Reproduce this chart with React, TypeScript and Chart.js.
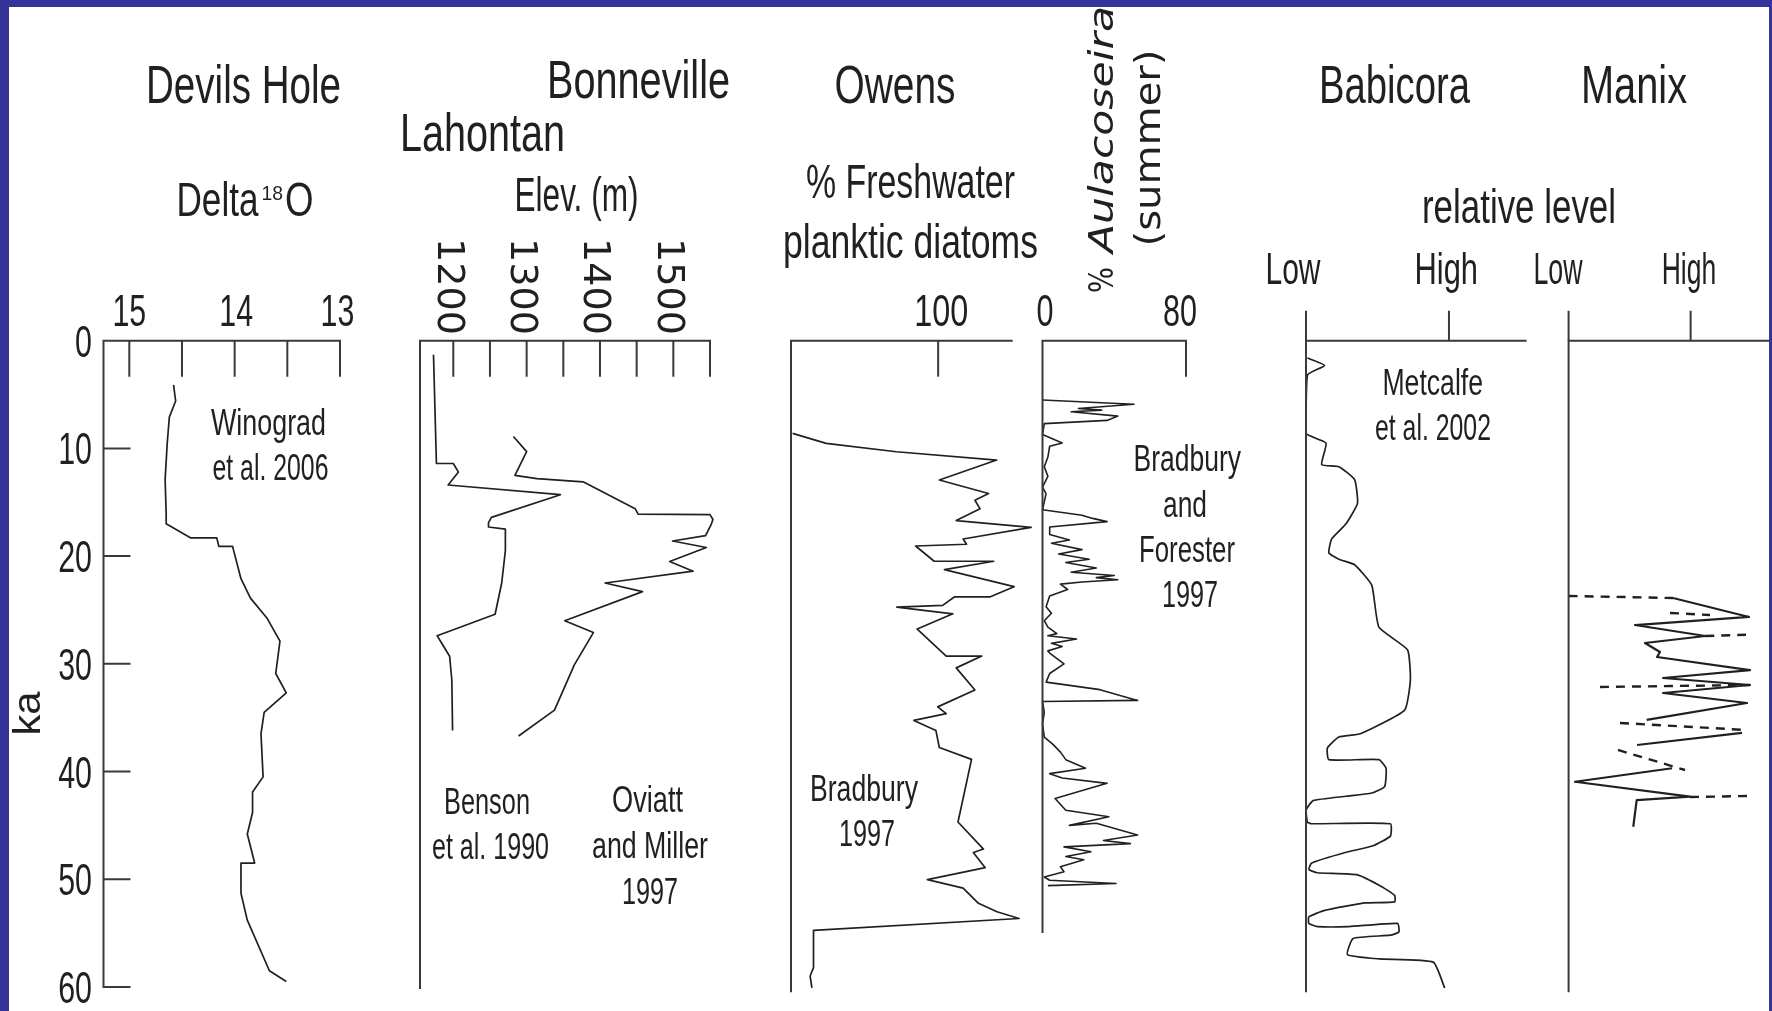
import React, { useEffect, useRef } from "react";
import { Chart, registerables } from "chart.js";

Chart.register(...registerables);

const W = 1772;
const H = 1011;
const AXIS_TOP = 340.7;
const KA_60 = 986.9;

const SANS = "'Liberation Sans', Arial, sans-serif";
const WIDE = "'DejaVu Sans', Verdana, sans-serif";
const INK = "#231f20";
const AXIS = "#3a3a3a";
const BLUE = "#333399";

// ---------------- data ----------------
const kaTickValues = [0, 10, 20, 30, 40, 50, 60];
const kaTickLabels = ["0", "10", "20", "30", "40", "50", "60"];

// Devils Hole (Winograd et al. 2006)
const devilsHoleKa = [4.1, 5.6, 7.1, 9.5, 12.9, 16.1, 17.0, 18.3, 18.3, 19.1, 19.1, 22.1, 23.9, 25.8, 27.9, 30.9, 32.7, 34.5, 36.5, 40.5, 41.9, 43.8, 45.8, 48.5, 48.5, 51.3, 53.8, 58.5, 59.5];
const devilsHoleD18O = [14.58, 14.56, 14.62, 14.64, 14.66, 14.65, 14.65, 14.42, 14.17, 14.15, 14.02, 13.94, 13.85, 13.69, 13.57, 13.61, 13.51, 13.72, 13.75, 13.73, 13.83, 13.83, 13.88, 13.81, 13.94, 13.94, 13.88, 13.67, 13.51];
const d18OTicks = [15, 14.5, 14, 13.5, 13];
const d18OLabelValues = [15, 14, 13];
const d18OLabels = ["15", "14", "13"];

// Lahontan (Benson et al. 1990) and Bonneville (Oviatt and Miller 1997)
const lahontanKa = [1.3, 11.4, 11.4, 12.2, 13.4, 14.3, 16.4, 16.9, 17.3, 17.5, 19.5, 22.5, 25.4, 27.4, 29.3, 31.5, 36.2];
const lahontanElev = [1173, 1177, 1200, 1207, 1193, 1346, 1252, 1248, 1248, 1271, 1271, 1266, 1257, 1178, 1195, 1198, 1199];
const bonnevilleKa = [8.9, 10.3, 12.5, 12.8, 13.1, 15.6, 16.1, 16.15, 16.6, 17.0, 18.1, 18.6, 19.2, 20.5, 21.4, 22.5, 23.3, 26.0, 27.1, 30.1, 34.3, 36.7];
const bonnevilleElev = [1282, 1300, 1284, 1314, 1377, 1448, 1452, 1550, 1554, 1552, 1544, 1499, 1545, 1495, 1527, 1407, 1458, 1352, 1391, 1365, 1338, 1289];
const elevTicks = [1200, 1250, 1300, 1350, 1400, 1450, 1500, 1550];
const elevLabelValues = [1200, 1300, 1400, 1500];
const elevLabels = ["1200", "1300", "1400", "1500"];

// Owens (Bradbury 1997) - % freshwater planktic diatoms
const owensKa = [8.6, 9.53, 10.31, 11.08, 12.93, 14.19, 14.82, 15.61, 16.7, 17.34, 18.41, 18.9, 19.06, 20.48, 20.48, 21.26, 22.84, 23.78, 23.78, 24.57, 24.73, 25.36, 26.77, 29.28, 29.28, 30.38, 32.43, 34.0, 34.63, 35.26, 36.2, 37.77, 38.87, 44.69, 47.2, 47.52, 48.93, 50.04, 50.83, 52.24, 53.02, 53.65, 54.75, 58.21, 58.99, 60.1];
const owensPct = [1.1, 23.9, 71.6, 139.8, 100.8, 134.3, 125.0, 128.5, 112.3, 163.2, 117.0, 119.3, 84.7, 97.3, 137.8, 104.3, 151.6, 135.5, 111.2, 103.1, 71.9, 110.0, 85.8, 105.5, 129.7, 112.3, 125.0, 99.7, 105.5, 83.5, 98.5, 100.8, 122.7, 113.5, 130.8, 123.9, 132.0, 92.7, 117.0, 127.4, 140.0, 155.0, 15.3, 15.3, 13.0, 14.2];
const owensTicks = [100];
const owensLabels = ["100"];

// Owens (Bradbury and Forester 1997) - % Aulacoseira (summer)
const aulacoseiraKa = [5.5, 5.9, 6.3, 6.45, 6.6, 7.0, 7.4, 7.7, 8.7, 9.5, 9.8, 10.8, 11.7, 12.6, 13.6, 14.2, 15.7, 16.2, 16.5, 16.8, 17.3, 18.0, 18.5, 18.8, 19.4, 19.8, 20.3, 20.6, 21.1, 21.5, 21.8, 22.0, 22.2, 22.4, 22.6, 23.1, 23.7, 24.7, 25.3, 26.0, 26.6, 27.2, 27.4, 27.7, 28.1, 28.4, 28.8, 29.0, 30.0, 30.9, 31.7, 32.4, 33.4, 33.5, 34.5, 35.6, 36.8, 37.5, 38.2, 38.9, 39.7, 40.2, 40.6, 41.1, 42.5, 43.6, 44.2, 45.0, 44.8, 45.9, 46.4, 46.7, 47.0, 47.45, 47.9, 48.2, 48.85, 49.3, 49.8, 50.1, 50.4, 50.6];
const aulacoseiraPct = [0, 51, 20, 33, 16, 42, 36, 1, 0, 11, 4, 3, 1, 3, 0, 2, 0, 22, 28, 36, 4, 4, 15, 5, 22, 9, 26, 13, 30, 16, 40, 30, 42, 22, 10, 14, 4, 2, 5, 1, 3, 8, 3, 19, 5, 11, 3, 4, 12, 4, 2, 32, 53, 0, 1, 0, 1, 6, 10, 13, 24, 4, 11, 36, 7, 13, 37, 15, 30, 53, 34, 49, 12, 27, 13, 23, 10, 12, 1, 4, 41, 3];
const aulacoseiraTicks = [80];
const aulacoseiraLabelValues = [0, 80];
const aulacoseiraLabels = ["0", "80"];

// Babicora (Metcalfe et al. 2002) - relative level (0 = Low, 1 = High)
const babicoraKa = [1.6, 2.3, 3.2, 8.6, 9.5, 11.5, 11.7, 12.9, 15.1, 17.0, 18.4, 19.7, 20.3, 20.8, 22.7, 26.6, 28.7, 31.5, 34.3, 36.5, 36.8, 37.8, 38.9, 38.9, 39.7, 41.4, 42.0, 42.3, 42.7, 43.6, 44.7, 44.85, 44.85, 46.0, 46.9, 47.5, 48.5, 49.1, 49.4, 49.6, 50.7, 51.5, 52.1, 52.2, 52.9, 53.5, 54.1, 54.4, 54.4, 54.1, 54.9, 55.2, 55.5, 57.0, 57.4, 57.7, 60.1];
const babicoraLevel = [0.01, 0.13, 0.01, 0.0, 0.14, 0.11, 0.23, 0.34, 0.36, 0.28, 0.18, 0.16, 0.23, 0.34, 0.46, 0.51, 0.71, 0.73, 0.69, 0.38, 0.23, 0.15, 0.16, 0.51, 0.56, 0.55, 0.46, 0.28, 0.05, 0.0, 0.01, 0.04, 0.59, 0.59, 0.47, 0.28, 0.04, 0.02, 0.08, 0.36, 0.53, 0.62, 0.62, 0.41, 0.13, 0.02, 0.02, 0.08, 0.3, 0.64, 0.65, 0.59, 0.33, 0.29, 0.51, 0.89, 0.97];
const levelTicks = [0, 1];
const levelLabels = ["Low", "High"];

// Manix - relative level, solid (observed) and dashed (inferred) segments
const manixSolidAKa = [23.89, 25.65, 26.4, 27.42, 28.07, 28.9, 29.37, 30.58, 31.32, 31.97, 32.71, 33.64, 35.21];
const manixSolidALevel = [0.856, 1.479, 0.544, 1.12, 0.626, 0.749, 0.725, 1.487, 0.774, 1.487, 0.774, 1.462, 0.64];
const manixSolidBKa = [37.54, 36.42];
const manixSolidBLevel = [0.561, 1.421];
const manixSolidCKa = [39.7, 40.95, 42.34, 42.65, 45.13];
const manixSolidCLevel = [0.848, 0.052, 0.995, 0.558, 0.53];
const manixDash1Ka = [23.7, 23.89];
const manixDash1Level = [0, 0.856];
const manixDash2Ka = [25.28, 25.47];
const manixDash2Level = [0.831, 1.159];
const manixDash3Ka = [27.42, 27.3];
const manixDash3Level = [1.12, 1.454];
const manixDash4Ka = [32.15, 31.97];
const manixDash4Level = [0.257, 1.487];
const manixDash5Ka = [35.49, 36.14];
const manixDash5Level = [0.421, 1.446];
const manixDash6Ka = [38.0, 39.86];
const manixDash6Level = [0.405, 0.954];
const manixDash7Ka = [42.37, 42.27];
const manixDash7Level = [0.995, 1.487];

// ---------------- drawing helpers ----------------
type TextItem = {
  text: string;
  x: number;
  y: number;
  size: number;
  width?: number;
  sx?: number;
  align?: CanvasTextAlign;
  rot?: number;
  italic?: boolean;
  family?: string;
};

function drawText(ctx: CanvasRenderingContext2D, t: TextItem) {
  ctx.save();
  ctx.font = `${t.italic ? "italic " : ""}${t.size}px ${t.family || SANS}`;
  ctx.fillStyle = INK;
  ctx.textBaseline = "alphabetic";
  ctx.textAlign = t.align || "left";
  const w = ctx.measureText(t.text).width;
  const sx = t.width ? t.width / w : t.sx || 1;
  ctx.translate(t.x, t.y);
  if (t.rot) ctx.rotate((t.rot * Math.PI) / 180);
  ctx.scale(sx, 1);
  ctx.fillText(t.text, 0, 0);
  ctx.restore();
}

type Series = { v: number[]; ka: number[]; dash?: number[]; width?: number; tension?: number };
type XLabel = { v: number; text: string; dx: number; y: number; style: Omit<TextItem, "text" | "x" | "y"> };

type Panel = {
  key: string;
  left: number;
  right: number;
  xMin: number;
  xMax: number;
  reverse?: boolean;
  axisBottomKa: number;
  xTicks: number[];
  xTickLen: number;
  yTicks: number[];
  yTickLen: number;
  yLabels: { ka: number; text: string }[];
  xLabels: XLabel[];
  texts: TextItem[];
  series: Series[];
};

const zip = (vals: number[], labels: string[]) => vals.map((v, i) => ({ v, text: labels[i] }));

const DIGITS = { size: 44, sx: 0.69, align: "center" as CanvasTextAlign };

const panels: Panel[] = [
  {
    key: "devils",
    left: 103.5,
    right: 340,
    xMin: 13,
    xMax: 15.245,
    reverse: true,
    axisBottomKa: 60,
    xTicks: d18OTicks,
    xTickLen: 36,
    yTicks: kaTickValues.slice(1),
    yTickLen: 27,
    yLabels: kaTickValues.map((ka, i) => ({ ka, text: kaTickLabels[i] })),
    xLabels: zip(d18OLabelValues, d18OLabels).map((l, i) => ({ ...l, dx: [0, 1.5, -2.5][i], y: 326, style: DIGITS })),
    texts: [
      { text: "Devils Hole", x: 146, y: 103, size: 54, width: 195 },
      { text: "Delta", x: 176.5, y: 216, size: 48, width: 82 },
      { text: "18", x: 261.5, y: 200, size: 21, width: 21.5 },
      { text: "O", x: 285, y: 216, size: 48, width: 28.5 },
      { text: "Winograd", x: 211, y: 435, size: 36, width: 115 },
      { text: "et al. 2006", x: 212.5, y: 480, size: 36, width: 116 },
      { text: "ka", x: 40, y: 735.5, size: 39, width: 44, rot: -90 },
    ],
    series: [{ v: devilsHoleD18O, ka: devilsHoleKa }],
  },
  {
    key: "lahontan",
    left: 420,
    right: 710,
    xMin: 1154.6,
    xMax: 1550,
    axisBottomKa: 60.1,
    xTicks: elevTicks,
    xTickLen: 36,
    yTicks: [],
    yTickLen: 0,
    yLabels: [],
    xLabels: zip(elevLabelValues, elevLabels).map((l) => ({
      ...l,
      dx: -15.5,
      y: 238,
      style: { size: 37, width: 97, rot: 90, family: WIDE, align: "left" as CanvasTextAlign },
    })),
    texts: [
      { text: "Bonneville", x: 547, y: 98, size: 54, width: 183 },
      { text: "Lahontan", x: 400, y: 151, size: 54, width: 165 },
      { text: "Elev. (m)", x: 514.5, y: 211, size: 48, width: 124 },
      { text: "Benson", x: 444, y: 814, size: 36, width: 86 },
      { text: "et al. 1990", x: 432, y: 859, size: 36, width: 117 },
      { text: "Oviatt", x: 612, y: 812, size: 36, width: 71 },
      { text: "and Miller", x: 592, y: 858, size: 36, width: 116 },
      { text: "1997", x: 622, y: 904, size: 36, width: 56 },
    ],
    series: [
      { v: lahontanElev, ka: lahontanKa },
      { v: bonnevilleElev, ka: bonnevilleKa },
    ],
  },
  {
    key: "owens",
    left: 791,
    right: 1011.7,
    xMin: 0,
    xMax: 150,
    axisBottomKa: 60.4,
    xTicks: owensTicks,
    xTickLen: 36,
    yTicks: [],
    yTickLen: 0,
    yLabels: [],
    xLabels: zip(owensTicks, owensLabels).map((l) => ({ ...l, dx: 3, y: 326, style: { size: 44, width: 54, align: "center" as CanvasTextAlign } })),
    texts: [
      { text: "Owens", x: 834.5, y: 103, size: 54, width: 121 },
      { text: "% Freshwater", x: 806, y: 198, size: 48, width: 209 },
      { text: "planktic diatoms", x: 783, y: 258, size: 48, width: 255 },
      { text: "Bradbury", x: 810, y: 801, size: 36, width: 108 },
      { text: "1997", x: 839, y: 846, size: 36, width: 56 },
    ],
    series: [{ v: owensPct, ka: owensKa }],
  },
  {
    key: "aulacoseira",
    left: 1042.5,
    right: 1186,
    xMin: 0,
    xMax: 80,
    axisBottomKa: 54.9,
    xTicks: aulacoseiraTicks,
    xTickLen: 36,
    yTicks: [],
    yTickLen: 0,
    yLabels: [],
    xLabels: zip(aulacoseiraLabelValues, aulacoseiraLabels).map((l, i) => ({
      ...l,
      dx: [2.5, -6][i],
      y: 326,
      style: { size: 44, width: [17, 34][i], align: "center" as CanvasTextAlign },
    })),
    texts: [
      { text: "%", x: 1113, y: 293, size: 34, width: 26, rot: -90, family: WIDE },
      { text: "Aulacoseira", x: 1113, y: 253, size: 34, width: 247, rot: -90, italic: true, family: WIDE },
      { text: "(summer)", x: 1160, y: 246.5, size: 36, width: 197, rot: -90, family: WIDE },
      { text: "Bradbury", x: 1133.5, y: 471, size: 36, width: 107.5 },
      { text: "and", x: 1163, y: 517, size: 36, width: 44 },
      { text: "Forester", x: 1139, y: 562, size: 36, width: 96 },
      { text: "1997", x: 1162, y: 607, size: 36, width: 56 },
    ],
    series: [{ v: aulacoseiraPct, ka: aulacoseiraKa, width: 1.6 }],
  },
  {
    key: "babicora",
    left: 1306,
    right: 1525.6,
    xMin: 0,
    xMax: 1.536,
    axisBottomKa: 60.4,
    xTicks: levelTicks,
    xTickLen: -30,
    yTicks: [],
    yTickLen: 0,
    yLabels: [],
    xLabels: zip(levelTicks, levelLabels).map((l, i) => ({
      ...l,
      dx: [-13, -2.7][i],
      y: 284,
      style: { size: 44, width: [55, 63.5][i], align: "center" as CanvasTextAlign },
    })),
    texts: [
      { text: "Babicora", x: 1319, y: 103, size: 54, width: 151 },
      { text: "relative level", x: 1422, y: 223, size: 48, width: 194 },
      { text: "Metcalfe", x: 1382.4, y: 395, size: 36, width: 100.6 },
      { text: "et al. 2002", x: 1375, y: 440, size: 36, width: 116 },
    ],
    series: [{ v: babicoraLevel, ka: babicoraKa, tension: 0.15 }],
  },
  {
    key: "manix",
    left: 1568.6,
    right: 1772,
    xMin: 0,
    xMax: 1.667,
    axisBottomKa: 60.4,
    xTicks: levelTicks,
    xTickLen: -30,
    yTicks: [],
    yTickLen: 0,
    yLabels: [],
    xLabels: zip(levelTicks, levelLabels).map((l, i) => ({
      ...l,
      dx: [-10.6, -1.7][i],
      y: 284,
      style: { size: 44, width: [49, 54.5][i], align: "center" as CanvasTextAlign },
    })),
    texts: [{ text: "Manix", x: 1581, y: 103, size: 54, width: 106 }],
    series: [
      { v: manixSolidALevel, ka: manixSolidAKa, width: 2.2 },
      { v: manixSolidBLevel, ka: manixSolidBKa, width: 2.2 },
      { v: manixSolidCLevel, ka: manixSolidCKa, width: 2.2 },
      { v: manixDash1Level, ka: manixDash1Ka, dash: [9, 7], width: 2.4 },
      { v: manixDash2Level, ka: manixDash2Ka, dash: [9, 7], width: 2.4 },
      { v: manixDash3Level, ka: manixDash3Ka, dash: [9, 7], width: 2.4 },
      { v: manixDash4Level, ka: manixDash4Ka, dash: [9, 7], width: 2.4 },
      { v: manixDash5Level, ka: manixDash5Ka, dash: [9, 7], width: 2.4 },
      { v: manixDash6Level, ka: manixDash6Ka, dash: [9, 7], width: 2.4 },
      { v: manixDash7Level, ka: manixDash7Ka, dash: [9, 7], width: 2.4 },
    ],
  },
];

function makeDecor(p: Panel) {
  return {
    id: "decor_" + p.key,
    afterDraw(chart: any) {
      const ctx: CanvasRenderingContext2D = chart.ctx;
      const xs = chart.scales.x;
      const ys = chart.scales.y;
      const area = chart.chartArea;
      const top = ys.getPixelForValue(0);
      ctx.save();
      ctx.strokeStyle = AXIS;
      ctx.lineWidth = 2;
      ctx.lineCap = "square";
      ctx.beginPath();
      ctx.moveTo(area.left, top);
      ctx.lineTo(area.right, top);
      ctx.moveTo(area.left, top);
      ctx.lineTo(area.left, ys.getPixelForValue(p.axisBottomKa));
      ctx.stroke();
      ctx.lineCap = "butt";
      ctx.beginPath();
      for (const t of p.xTicks) {
        const px = xs.getPixelForValue(t);
        ctx.moveTo(px, top);
        ctx.lineTo(px, top + p.xTickLen);
      }
      for (const k of p.yTicks) {
        const py = ys.getPixelForValue(k);
        ctx.moveTo(area.left, py);
        ctx.lineTo(area.left + p.yTickLen, py);
      }
      ctx.stroke();
      for (const l of p.xLabels) {
        drawText(ctx, { ...l.style, text: l.text, x: xs.getPixelForValue(l.v) + l.dx, y: l.y } as TextItem);
      }
      for (const l of p.yLabels) {
        drawText(ctx, { text: l.text, x: area.left - 11.5, y: ys.getPixelForValue(l.ka) + 16, size: 44, sx: 0.69, align: "right" });
      }
      for (const t of p.texts) drawText(ctx, t);
      ctx.restore();
    },
  };
}

function PanelChart({ panel }: { panel: Panel }) {
  const ref = useRef<HTMLCanvasElement | null>(null);
  useEffect(() => {
    const canvas = ref.current;
    if (!canvas) return;
    const chart = new Chart(canvas, {
      type: "scatter",
      data: {
        datasets: panel.series.map((s) => ({
          data: s.v.map((x, i) => ({ x, y: s.ka[i] })),
          showLine: true,
          borderColor: INK,
          backgroundColor: INK,
          borderWidth: s.width ?? 1.7,
          borderDash: s.dash ?? [],
          borderJoinStyle: "round",
          borderCapStyle: "butt",
          pointRadius: 0,
          pointHoverRadius: 0,
          tension: s.tension ?? 0,
          clip: false,
        })),
      },
      options: {
        responsive: false,
        maintainAspectRatio: false,
        animation: false,
        events: [],
        devicePixelRatio: 1,
        layout: { padding: { left: panel.left, right: W - panel.right, top: AXIS_TOP, bottom: H - KA_60 } },
        plugins: { legend: { display: false }, tooltip: { enabled: false }, title: { display: false } },
        scales: {
          x: { type: "linear", display: false, min: panel.xMin, max: panel.xMax, reverse: !!panel.reverse },
          y: { type: "linear", display: false, min: 0, max: 60, reverse: true },
        },
      } as any,
      plugins: [makeDecor(panel)],
    } as any);
    return () => chart.destroy();
  }, [panel]);
  return (
    <canvas
      ref={ref}
      width={W}
      height={H}
      style={{ position: "absolute", left: 0, top: 0, width: W, height: H }}
    />
  );
}

export default function App() {
  return (
    <div style={{ position: "fixed", left: 0, top: 0, width: W, height: H, background: "#ffffff", overflow: "hidden" }}>
      {panels.map((p) => (
        <PanelChart key={p.key} panel={p} />
      ))}
      <div style={{ position: "absolute", left: 0, top: 0, width: W, height: 7, background: BLUE, zIndex: 5 }} />
      <div style={{ position: "absolute", left: 0, top: 0, width: 9, height: H, background: BLUE, zIndex: 5 }} />
      <div style={{ position: "absolute", left: 1768.5, top: 0, width: W - 1768.5, height: H, background: BLUE, zIndex: 5 }} />
    </div>
  );
}
